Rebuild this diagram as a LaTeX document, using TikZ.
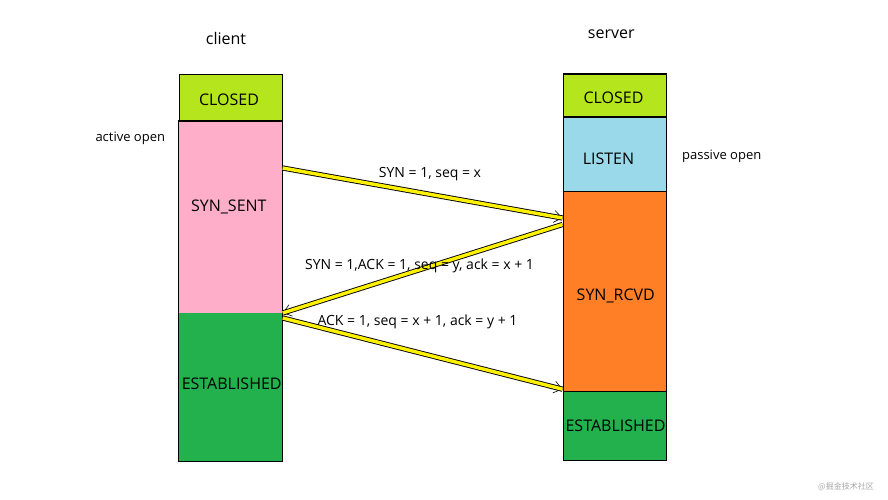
\documentclass[tikz,border=0pt]{standalone}
\usepackage{fontspec}
\setmainfont{Open Sans}
\newfontfamily\cjkfont{Noto Sans CJK SC}
\usetikzlibrary{calc,arrows.meta}
\definecolor{paintlime}{HTML}{B5E61D}
\definecolor{paintpink}{HTML}{FFAEC9}
\definecolor{paintblue}{HTML}{99D9EA}
\definecolor{paintorange}{HTML}{FF7F27}
\definecolor{paintgreen}{HTML}{22B14C}
\definecolor{paintyellow}{HTML}{FFF200}

\begin{document}
\begin{tikzpicture}[x=1pt,y=-1pt,
        state/.style={draw=black,line width=1.2pt,minimum width=103pt,inner sep=0pt,anchor=north west},
        fillonly/.style={state,draw=none},
        msg/.style={preaction={draw=black,line width=.6pt,-{Straight Barb[length=8pt,width=12pt]}},draw=black,line width=.9pt,double=paintyellow,double distance=3.4pt},
        statetxt/.style={anchor=base,inner sep=0pt,font=\fontsize{16}{19}\selectfont},
        lbl/.style={anchor=base,inner sep=0pt,font=\fontsize{14}{17}\selectfont},
        side/.style={anchor=base,inner sep=0pt,font=\fontsize{13}{16}\selectfont}]
        \useasboundingbox (0,0) rectangle (888,500);

        \node[state,fill=paintlime,minimum height=47pt] (cclosed) at (178.5,74) {};
        \node[fillonly,fill=paintpink,minimum height=191pt] (csent) at (178.5,121) {};
        \node[fillonly,fill=paintgreen,minimum height=148pt] (cest) at (178.5,312) {};
        \draw[line width=1.2pt] (csent.north west) rectangle (cest.south east);

        \node[state,fill=paintlime,minimum height=43pt] (sclosed) at (562.5,73.5) {};
        \node[state,fill=paintblue,minimum height=74pt] (slisten) at (562.5,116.5) {};
        \node[state,fill=paintorange,minimum height=200.5pt] (srcvd) at (562.5,190.5) {};
        \node[state,fill=paintgreen,minimum height=69pt] (sest) at (562.5,391) {};

        \node[statetxt] (cclosedtxt) at (229,105.5) {CLOSED};
        \node[statetxt] (csenttxt) at (228.8,211) {SYN\_SENT};
        \node[statetxt] (cesttxt) at (231.7,389.3) {ESTABLISHED};
        \node[statetxt] (sclosedtxt) at (613.5,104) {CLOSED};
        \node[statetxt] (slistentxt) at (608.5,164.3) {LISTEN};
        \node[statetxt] (srcvdtxt) at (615.8,300.7) {SYN\_RCVD};
        \node[statetxt] (sesttxt) at (615.5,431) {ESTABLISHED};

        \node[statetxt] (client) at (226,45) {client};
        \node[statetxt] (server) at (611.3,39) {server};
        \node[side] (active) at (130.3,142) {active open};
        \node[side] (passive) at (721.7,159.3) {passive open};

        \draw[msg] ($(csent.north east)+(0,47)$) -- ($(srcvd.north west)+(0,27.5)$);
        \draw[msg] ($(srcvd.north west)+(0,34)$) -- ($(cest.north east)+(0,1)$);
        \draw[msg] ($(cest.north east)+(0,6)$) -- ($(srcvd.south west)+(0,-3)$);

        \node[lbl] (syn) at (430,177.3) {SYN = 1, seq = x};
        \node[lbl] (synack) at (419.5,269.3) {SYN = 1,ACK = 1, seq = y, ack = x + 1};
        \node[lbl] (ack) at (417.5,325) {ACK = 1, seq = x + 1, ack = y + 1};

        \node[text=black!35,font=\cjkfont\fontsize{8}{10}\selectfont] (mark) at (846,487) {@掘金技术社区};
    \end{tikzpicture}
\end{document}
